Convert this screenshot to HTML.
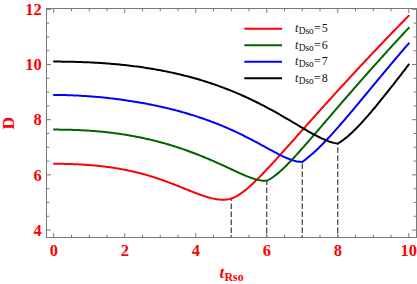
<!DOCTYPE html><html><head><meta charset="utf-8"><title>plot</title><style>
html,body{margin:0;padding:0;background:#fff;}
#c{position:relative;width:417px;height:284px;overflow:hidden;background:#fff;font-family:"Liberation Serif",serif;}
</style></head><body><div id="c">
<svg width="417" height="284" viewBox="0 0 417 284" style="position:absolute;left:0;top:0">
<rect x="0" y="0" width="417" height="284" fill="#ffffff"/>
<line x1="231.25" y1="198.5" x2="231.25" y2="237.5" stroke="#333" stroke-width="1.15" stroke-dasharray="5.5,2.5" stroke-dashoffset="3.10"/>
<line x1="266.75" y1="180.5" x2="266.75" y2="237.5" stroke="#333" stroke-width="1.15" stroke-dasharray="5.5,2.5" stroke-dashoffset="1.10"/>
<line x1="302.25" y1="162" x2="302.25" y2="237.5" stroke="#333" stroke-width="1.15" stroke-dasharray="5.5,2.5" stroke-dashoffset="6.60"/>
<line x1="337.75" y1="143" x2="337.75" y2="237.5" stroke="#333" stroke-width="1.15" stroke-dasharray="5.5,2.5" stroke-dashoffset="3.60"/>
<path d="M53.20,163.81L54.32,163.81L55.44,163.80L56.56,163.80L57.68,163.81L58.80,163.81L59.92,163.82L61.04,163.83L62.16,163.84L63.28,163.86L64.40,163.88L65.52,163.90L66.64,163.93L67.76,163.95L68.88,163.98L70.00,164.02L71.12,164.05L72.24,164.09L73.36,164.13L74.48,164.18L75.60,164.23L76.72,164.28L77.84,164.33L78.96,164.39L80.08,164.45L81.20,164.51L82.32,164.57L83.43,164.64L84.55,164.72L85.67,164.79L86.79,164.87L87.91,164.95L89.03,165.04L90.15,165.13L91.27,165.22L92.39,165.31L93.51,165.41L94.63,165.51L95.75,165.62L96.87,165.73L97.99,165.84L99.11,165.96L100.23,166.08L101.35,166.21L102.47,166.33L103.59,166.47L104.71,166.60L105.83,166.74L106.95,166.89L108.07,167.04L109.19,167.19L110.31,167.35L111.43,167.51L112.55,167.67L113.67,167.84L114.79,168.02L115.91,168.20L117.03,168.38L118.15,168.57L119.27,168.76L120.39,168.96L121.51,169.16L122.63,169.37L123.75,169.58L124.87,169.80L125.99,170.02L127.11,170.25L128.23,170.48L129.35,170.71L130.47,170.96L131.59,171.20L132.71,171.46L133.83,171.71L134.95,171.98L136.07,172.24L137.19,172.52L138.31,172.80L139.43,173.08L140.55,173.37L141.67,173.67L142.78,173.97L143.90,174.27L145.02,174.58L146.14,174.90L147.26,175.22L148.38,175.55L149.50,175.88L150.62,176.22L151.74,176.57L152.86,176.92L153.98,177.27L155.10,177.63L156.22,178.00L157.34,178.37L158.46,178.74L159.58,179.12L160.70,179.51L161.82,179.90L162.94,180.29L164.06,180.69L165.18,181.10L166.30,181.51L167.42,181.92L168.54,182.34L169.66,182.76L170.78,183.18L171.90,183.61L173.02,184.04L174.14,184.48L175.26,184.91L176.38,185.36L177.50,185.80L178.62,186.24L179.74,186.69L180.86,187.14L181.98,187.59L183.10,188.04L184.22,188.50L185.34,188.95L186.46,189.40L187.58,189.85L188.70,190.30L189.82,190.75L190.94,191.20L192.06,191.64L193.18,192.08L194.30,192.52L195.42,192.95L196.54,193.38L197.66,193.80L198.78,194.22L199.90,194.62L201.02,195.02L202.13,195.41L203.25,195.80L204.37,196.17L205.49,196.53L206.61,196.87L207.73,197.21L208.85,197.52L209.97,197.83L211.09,198.11L212.21,198.38L213.33,198.62L214.45,198.85L215.57,199.05L216.69,199.23L217.81,199.39L218.93,199.51L220.05,199.61L221.17,199.68L222.29,199.71L223.41,199.71L224.53,199.68L225.65,199.60L226.77,199.48L227.89,199.33L229.01,199.12L230.13,198.87L231.25,198.56L232.75,198.03L234.24,197.39L235.74,196.65L237.23,195.83L238.73,194.92L240.23,193.95L241.72,192.90L243.22,191.80L244.72,190.64L246.21,189.42L247.71,188.17L249.20,186.87L250.70,185.53L252.20,184.15L253.69,182.75L255.19,181.31L256.69,179.85L258.18,178.37L259.68,176.86L261.17,175.33L262.67,173.79L264.17,172.23L265.66,170.65L267.16,169.06L268.66,167.46L270.15,165.85L271.65,164.23L273.14,162.60L274.64,160.97L276.14,159.32L277.63,157.67L279.13,156.02L280.63,154.36L282.12,152.69L283.62,151.03L285.11,149.36L286.61,147.68L288.11,146.01L289.60,144.33L291.10,142.66L292.59,140.98L294.09,139.30L295.59,137.62L297.08,135.94L298.58,134.26L300.08,132.57L301.57,130.89L303.07,129.22L304.56,127.54L306.06,125.86L307.56,124.18L309.05,122.51L310.55,120.83L312.05,119.16L313.54,117.49L315.04,115.82L316.53,114.15L318.03,112.48L319.53,110.82L321.02,109.16L322.52,107.50L324.02,105.84L325.51,104.18L327.01,102.52L328.50,100.87L330.00,99.22L331.50,97.57L332.99,95.92L334.49,94.28L335.99,92.64L337.48,91.00L338.98,89.36L340.47,87.72L341.97,86.09L343.47,84.46L344.96,82.83L346.46,81.21L347.96,79.58L349.45,77.96L350.95,76.34L352.44,74.73L353.94,73.11L355.44,71.50L356.93,69.89L358.43,68.28L359.92,66.68L361.42,65.08L362.92,63.48L364.41,61.88L365.91,60.29L367.41,58.69L368.90,57.10L370.40,55.52L371.89,53.93L373.39,52.35L374.89,50.77L376.38,49.19L377.88,47.62L379.38,46.05L380.87,44.48L382.37,42.91L383.86,41.34L385.36,39.78L386.86,38.22L388.35,36.66L389.85,35.11L391.35,33.56L392.84,32.01L394.34,30.46L395.83,28.92L397.33,27.37L398.83,25.83L400.32,24.30L401.82,22.76L403.32,21.23L404.81,19.70L406.31,18.17L407.80,16.65L409.30,15.12" fill="none" stroke="#ff0000" stroke-width="2" stroke-linejoin="miter" stroke-miterlimit="10" stroke-linecap="butt"/>
<path d="M53.20,129.60L54.54,129.60L55.89,129.61L57.23,129.61L58.57,129.62L59.92,129.63L61.26,129.65L62.60,129.66L63.94,129.68L65.29,129.71L66.63,129.73L67.97,129.76L69.32,129.79L70.66,129.83L72.00,129.87L73.35,129.91L74.69,129.96L76.03,130.01L77.38,130.06L78.72,130.12L80.06,130.18L81.40,130.24L82.75,130.31L84.09,130.38L85.43,130.46L86.78,130.54L88.12,130.62L89.46,130.71L90.81,130.80L92.15,130.90L93.49,131.00L94.84,131.11L96.18,131.21L97.52,131.33L98.86,131.45L100.21,131.57L101.55,131.69L102.89,131.83L104.24,131.96L105.58,132.10L106.92,132.25L108.27,132.40L109.61,132.55L110.95,132.71L112.30,132.88L113.64,133.04L114.98,133.22L116.32,133.40L117.67,133.58L119.01,133.77L120.35,133.96L121.70,134.16L123.04,134.37L124.38,134.58L125.73,134.79L127.07,135.01L128.41,135.24L129.76,135.47L131.10,135.70L132.44,135.95L133.78,136.19L135.13,136.44L136.47,136.70L137.81,136.96L139.16,137.23L140.50,137.51L141.84,137.79L143.19,138.07L144.53,138.36L145.87,138.66L147.22,138.96L148.56,139.27L149.90,139.58L151.24,139.90L152.59,140.23L153.93,140.56L155.27,140.89L156.62,141.24L157.96,141.58L159.30,141.94L160.65,142.30L161.99,142.67L163.33,143.04L164.68,143.41L166.02,143.80L167.36,144.19L168.71,144.58L170.05,144.99L171.39,145.39L172.73,145.81L174.08,146.23L175.42,146.65L176.76,147.08L178.11,147.52L179.45,147.96L180.79,148.41L182.14,148.87L183.48,149.33L184.82,149.80L186.17,150.27L187.51,150.75L188.85,151.24L190.19,151.73L191.54,152.22L192.88,152.73L194.22,153.24L195.57,153.75L196.91,154.27L198.25,154.80L199.60,155.33L200.94,155.87L202.28,156.41L203.63,156.96L204.97,157.52L206.31,158.08L207.65,158.64L209.00,159.21L210.34,159.79L211.68,160.37L213.03,160.95L214.37,161.54L215.71,162.14L217.06,162.73L218.40,163.34L219.74,163.94L221.09,164.55L222.43,165.17L223.77,165.78L225.11,166.40L226.46,167.02L227.80,167.64L229.14,168.27L230.49,168.89L231.83,169.52L233.17,170.14L234.52,170.76L235.86,171.38L237.20,172.00L238.55,172.61L239.89,173.22L241.23,173.82L242.57,174.41L243.92,174.99L245.26,175.57L246.60,176.12L247.95,176.67L249.29,177.19L250.63,177.70L251.98,178.18L253.32,178.63L254.66,179.05L256.01,179.44L257.35,179.79L258.69,180.10L260.03,180.36L261.38,180.56L262.72,180.70L264.06,180.77L265.41,180.76L266.75,180.67L267.95,180.11L269.15,179.49L270.34,178.81L271.54,178.06L272.74,177.27L273.94,176.42L275.14,175.53L276.33,174.60L277.53,173.62L278.73,172.61L279.93,171.57L281.12,170.50L282.32,169.40L283.52,168.27L284.72,167.11L285.92,165.94L287.11,164.74L288.31,163.53L289.51,162.30L290.71,161.05L291.91,159.78L293.10,158.51L294.30,157.22L295.50,155.92L296.70,154.61L297.90,153.29L299.09,151.96L300.29,150.62L301.49,149.28L302.69,147.92L303.88,146.57L305.08,145.21L306.28,143.84L307.48,142.47L308.68,141.09L309.87,139.71L311.07,138.33L312.27,136.95L313.47,135.56L314.67,134.17L315.86,132.78L317.06,131.39L318.26,129.99L319.46,128.60L320.66,127.20L321.85,125.81L323.05,124.41L324.25,123.02L325.45,121.62L326.64,120.22L327.84,118.83L329.04,117.43L330.24,116.04L331.44,114.64L332.63,113.25L333.83,111.85L335.03,110.46L336.23,109.07L337.43,107.68L338.62,106.29L339.82,104.90L341.02,103.51L342.22,102.13L343.42,100.74L344.61,99.36L345.81,97.98L347.01,96.60L348.21,95.22L349.41,93.84L350.60,92.47L351.80,91.09L353.00,89.72L354.20,88.35L355.39,86.98L356.59,85.61L357.79,84.25L358.99,82.88L360.19,81.52L361.38,80.16L362.58,78.80L363.78,77.44L364.98,76.09L366.18,74.73L367.37,73.38L368.57,72.03L369.77,70.69L370.97,69.34L372.17,68.00L373.36,66.65L374.56,65.31L375.76,63.97L376.96,62.64L378.15,61.30L379.35,59.97L380.55,58.64L381.75,57.31L382.95,55.98L384.14,54.66L385.34,53.33L386.54,52.01L387.74,50.69L388.94,49.38L390.13,48.06L391.33,46.75L392.53,45.44L393.73,44.13L394.93,42.82L396.12,41.51L397.32,40.21L398.52,38.91L399.72,37.61L400.91,36.31L402.11,35.01L403.31,33.72L404.51,32.43L405.71,31.14L406.90,29.85L408.10,28.57L409.30,27.28" fill="none" stroke="#006400" stroke-width="2" stroke-linejoin="miter" stroke-miterlimit="10" stroke-linecap="butt"/>
<path d="M53.20,94.97L54.77,94.97L56.33,94.97L57.90,94.98L59.47,95.00L61.03,95.02L62.60,95.05L64.16,95.08L65.73,95.12L67.30,95.17L68.86,95.22L70.43,95.27L72.00,95.33L73.56,95.39L75.13,95.46L76.70,95.53L78.26,95.61L79.83,95.70L81.39,95.78L82.96,95.88L84.53,95.98L86.09,96.08L87.66,96.19L89.23,96.30L90.79,96.42L92.36,96.54L93.93,96.67L95.49,96.80L97.06,96.94L98.62,97.08L100.19,97.22L101.76,97.37L103.32,97.53L104.89,97.69L106.46,97.86L108.02,98.03L109.59,98.20L111.16,98.38L112.72,98.56L114.29,98.75L115.85,98.95L117.42,99.15L118.99,99.35L120.55,99.56L122.12,99.77L123.69,99.99L125.25,100.21L126.82,100.44L128.38,100.67L129.95,100.91L131.52,101.16L133.08,101.41L134.65,101.66L136.22,101.92L137.78,102.18L139.35,102.45L140.92,102.73L142.48,103.01L144.05,103.29L145.61,103.58L147.18,103.88L148.75,104.18L150.31,104.49L151.88,104.80L153.45,105.12L155.01,105.45L156.58,105.78L158.15,106.11L159.71,106.45L161.28,106.80L162.84,107.16L164.41,107.52L165.98,107.89L167.54,108.26L169.11,108.64L170.68,109.02L172.24,109.42L173.81,109.82L175.38,110.22L176.94,110.64L178.51,111.06L180.07,111.48L181.64,111.92L183.21,112.36L184.77,112.80L186.34,113.26L187.91,113.72L189.47,114.19L191.04,114.67L192.61,115.16L194.17,115.65L195.74,116.15L197.30,116.66L198.87,117.18L200.44,117.70L202.00,118.23L203.57,118.77L205.14,119.32L206.70,119.88L208.27,120.45L209.84,121.02L211.40,121.61L212.97,122.20L214.53,122.80L216.10,123.41L217.67,124.03L219.23,124.66L220.80,125.30L222.37,125.95L223.93,126.60L225.50,127.27L227.07,127.95L228.63,128.63L230.20,129.32L231.76,130.03L233.33,130.74L234.90,131.46L236.46,132.19L238.03,132.93L239.60,133.68L241.16,134.44L242.73,135.21L244.29,135.98L245.86,136.77L247.43,137.56L248.99,138.36L250.56,139.17L252.13,139.99L253.69,140.81L255.26,141.64L256.83,142.48L258.39,143.32L259.96,144.16L261.52,145.01L263.09,145.87L264.66,146.72L266.22,147.58L267.79,148.44L269.36,149.29L270.92,150.14L272.49,150.99L274.06,151.83L275.62,152.66L277.19,153.48L278.75,154.29L280.32,155.08L281.89,155.85L283.45,156.60L285.02,157.33L286.59,158.02L288.15,158.67L289.72,159.29L291.29,159.86L292.85,160.37L294.42,160.82L295.98,161.21L297.55,161.52L299.12,161.74L300.68,161.87L302.25,161.88L303.15,161.25L304.05,160.60L304.95,159.93L305.85,159.24L306.75,158.54L307.65,157.82L308.55,157.09L309.45,156.35L310.35,155.58L311.25,154.81L312.15,154.02L313.04,153.22L313.94,152.41L314.84,151.58L315.74,150.75L316.64,149.90L317.54,149.04L318.44,148.17L319.34,147.30L320.24,146.41L321.14,145.51L322.04,144.60L322.94,143.69L323.84,142.76L324.74,141.83L325.64,140.89L326.54,139.95L327.44,138.99L328.34,138.03L329.24,137.06L330.14,136.09L331.04,135.11L331.94,134.12L332.84,133.13L333.74,132.13L334.63,131.13L335.53,130.12L336.43,129.11L337.33,128.09L338.23,127.07L339.13,126.04L340.03,125.01L340.93,123.98L341.83,122.94L342.73,121.90L343.63,120.86L344.53,119.81L345.43,118.76L346.33,117.70L347.23,116.65L348.13,115.59L349.03,114.53L349.93,113.47L350.83,112.40L351.73,111.33L352.63,110.26L353.53,109.19L354.43,108.12L355.33,107.05L356.22,105.97L357.12,104.89L358.02,103.81L358.92,102.74L359.82,101.65L360.72,100.57L361.62,99.49L362.52,98.41L363.42,97.33L364.32,96.24L365.22,95.16L366.12,94.07L367.02,92.99L367.92,91.90L368.82,90.82L369.72,89.73L370.62,88.65L371.52,87.56L372.42,86.48L373.32,85.39L374.22,84.31L375.12,83.22L376.02,82.14L376.92,81.05L377.81,79.97L378.71,78.89L379.61,77.81L380.51,76.73L381.41,75.65L382.31,74.57L383.21,73.49L384.11,72.41L385.01,71.33L385.91,70.26L386.81,69.18L387.71,68.11L388.61,67.04L389.51,65.96L390.41,64.89L391.31,63.83L392.21,62.76L393.11,61.69L394.01,60.63L394.91,59.56L395.81,58.50L396.71,57.44L397.61,56.38L398.51,55.32L399.40,54.26L400.30,53.21L401.20,52.15L402.10,51.10L403.00,50.05L403.90,49.00L404.80,47.96L405.70,46.91L406.60,45.87L407.50,44.82L408.40,43.78L409.30,42.75" fill="none" stroke="#0000ff" stroke-width="2" stroke-linejoin="miter" stroke-miterlimit="10" stroke-linecap="butt"/>
<path d="M53.20,61.58L54.99,61.59L56.78,61.59L58.57,61.60L60.36,61.61L62.15,61.63L63.94,61.65L65.73,61.67L67.52,61.70L69.31,61.73L71.10,61.77L72.89,61.81L74.68,61.85L76.47,61.90L78.25,61.95L80.04,62.01L81.83,62.07L83.62,62.14L85.41,62.21L87.20,62.29L88.99,62.37L90.78,62.45L92.57,62.55L94.36,62.64L96.15,62.74L97.94,62.85L99.73,62.96L101.52,63.07L103.31,63.20L105.10,63.32L106.89,63.46L108.68,63.59L110.47,63.74L112.26,63.89L114.05,64.04L115.84,64.20L117.63,64.37L119.42,64.54L121.21,64.72L123.00,64.90L124.78,65.09L126.57,65.29L128.36,65.50L130.15,65.71L131.94,65.92L133.73,66.14L135.52,66.37L137.31,66.61L139.10,66.85L140.89,67.10L142.68,67.36L144.47,67.63L146.26,67.90L148.05,68.18L149.84,68.46L151.63,68.76L153.42,69.06L155.21,69.37L157.00,69.68L158.79,70.01L160.58,70.34L162.37,70.68L164.16,71.03L165.95,71.38L167.74,71.75L169.53,72.12L171.32,72.50L173.10,72.89L174.89,73.29L176.68,73.69L178.47,74.11L180.26,74.54L182.05,74.97L183.84,75.41L185.63,75.86L187.42,76.33L189.21,76.80L191.00,77.28L192.79,77.77L194.58,78.26L196.37,78.77L198.16,79.29L199.95,79.82L201.74,80.36L203.53,80.91L205.32,81.47L207.11,82.04L208.90,82.62L210.69,83.21L212.48,83.81L214.27,84.42L216.06,85.04L217.85,85.68L219.63,86.32L221.42,86.98L223.21,87.64L225.00,88.32L226.79,89.01L228.58,89.71L230.37,90.42L232.16,91.15L233.95,91.88L235.74,92.63L237.53,93.38L239.32,94.15L241.11,94.94L242.90,95.73L244.69,96.53L246.48,97.35L248.27,98.18L250.06,99.02L251.85,99.87L253.64,100.73L255.43,101.61L257.22,102.49L259.01,103.39L260.80,104.30L262.59,105.22L264.38,106.15L266.17,107.10L267.95,108.05L269.74,109.01L271.53,109.99L273.32,110.97L275.11,111.96L276.90,112.97L278.69,113.98L280.48,115.00L282.27,116.03L284.06,117.06L285.85,118.11L287.64,119.15L289.43,120.21L291.22,121.26L293.01,122.32L294.80,123.39L296.59,124.45L298.38,125.51L300.17,126.57L301.96,127.63L303.75,128.68L305.54,129.73L307.33,130.77L309.12,131.79L310.91,132.80L312.70,133.79L314.48,134.76L316.27,135.71L318.06,136.63L319.85,137.52L321.64,138.38L323.43,139.19L325.22,139.96L327.01,140.67L328.80,141.33L330.59,141.92L332.38,142.43L334.17,142.87L335.96,143.21L337.75,143.45L338.35,143.12L338.95,142.77L339.55,142.40L340.16,142.03L340.76,141.64L341.36,141.24L341.96,140.83L342.56,140.40L343.16,139.97L343.76,139.53L344.36,139.07L344.97,138.61L345.57,138.13L346.17,137.65L346.77,137.16L347.37,136.65L347.97,136.14L348.57,135.62L349.17,135.10L349.78,134.56L350.38,134.02L350.98,133.47L351.58,132.91L352.18,132.35L352.78,131.78L353.38,131.20L353.98,130.62L354.59,130.03L355.19,129.43L355.79,128.83L356.39,128.22L356.99,127.61L357.59,126.99L358.19,126.37L358.79,125.74L359.40,125.10L360.00,124.47L360.60,123.82L361.20,123.17L361.80,122.52L362.40,121.87L363.00,121.20L363.60,120.54L364.21,119.87L364.81,119.20L365.41,118.52L366.01,117.84L366.61,117.16L367.21,116.47L367.81,115.79L368.41,115.09L369.02,114.40L369.62,113.70L370.22,113.00L370.82,112.29L371.42,111.58L372.02,110.87L372.62,110.16L373.22,109.45L373.83,108.73L374.43,108.01L375.03,107.29L375.63,106.56L376.23,105.84L376.83,105.11L377.43,104.38L378.03,103.64L378.64,102.91L379.24,102.17L379.84,101.43L380.44,100.69L381.04,99.95L381.64,99.21L382.24,98.46L382.84,97.72L383.45,96.97L384.05,96.22L384.65,95.47L385.25,94.72L385.85,93.96L386.45,93.21L387.05,92.45L387.65,91.69L388.26,90.94L388.86,90.18L389.46,89.41L390.06,88.65L390.66,87.89L391.26,87.12L391.86,86.36L392.46,85.59L393.07,84.83L393.67,84.06L394.27,83.29L394.87,82.52L395.47,81.75L396.07,80.98L396.67,80.20L397.27,79.43L397.88,78.66L398.48,77.88L399.08,77.11L399.68,76.33L400.28,75.55L400.88,74.78L401.48,74.00L402.08,73.22L402.69,72.44L403.29,71.66L403.89,70.88L404.49,70.10L405.09,69.32L405.69,68.54L406.29,67.76L406.89,66.97L407.50,66.19L408.10,65.41L408.70,64.62L409.30,63.84" fill="none" stroke="#000000" stroke-width="2" stroke-linejoin="miter" stroke-miterlimit="10" stroke-linecap="butt"/>
<rect x="46.5" y="8.5" width="370.0" height="229.0" fill="none" stroke="#787878" stroke-width="1"/>
<path d="M53.75,237.5v-4.5M53.75,8.5v4.5M71.50,237.5v-2.8M71.50,8.5v2.8M89.25,237.5v-2.8M89.25,8.5v2.8M107.00,237.5v-2.8M107.00,8.5v2.8M124.75,237.5v-4.5M124.75,8.5v4.5M142.50,237.5v-2.8M142.50,8.5v2.8M160.25,237.5v-2.8M160.25,8.5v2.8M178.00,237.5v-2.8M178.00,8.5v2.8M195.75,237.5v-4.5M195.75,8.5v4.5M213.50,237.5v-2.8M213.50,8.5v2.8M231.25,237.5v-2.8M231.25,8.5v2.8M249.00,237.5v-2.8M249.00,8.5v2.8M266.75,237.5v-4.5M266.75,8.5v4.5M284.50,237.5v-2.8M284.50,8.5v2.8M302.25,237.5v-2.8M302.25,8.5v2.8M320.00,237.5v-2.8M320.00,8.5v2.8M337.75,237.5v-4.5M337.75,8.5v4.5M355.50,237.5v-2.8M355.50,8.5v2.8M373.25,237.5v-2.8M373.25,8.5v2.8M391.00,237.5v-2.8M391.00,8.5v2.8M408.75,237.5v-4.5M408.75,8.5v4.5M46.5,230.05h4.5M416.5,230.05h-4.5M46.5,216.26h2.8M416.5,216.26h-2.8M46.5,202.46h2.8M416.5,202.46h-2.8M46.5,188.67h2.8M416.5,188.67h-2.8M46.5,174.87h4.5M416.5,174.87h-4.5M46.5,161.08h2.8M416.5,161.08h-2.8M46.5,147.28h2.8M416.5,147.28h-2.8M46.5,133.49h2.8M416.5,133.49h-2.8M46.5,119.69h4.5M416.5,119.69h-4.5M46.5,105.90h2.8M416.5,105.90h-2.8M46.5,92.10h2.8M416.5,92.10h-2.8M46.5,78.31h2.8M416.5,78.31h-2.8M46.5,64.51h4.5M416.5,64.51h-4.5M46.5,50.72h2.8M416.5,50.72h-2.8M46.5,36.92h2.8M416.5,36.92h-2.8M46.5,23.12h2.8M416.5,23.12h-2.8M46.5,9.33h4.5M416.5,9.33h-4.5" stroke="#787878" stroke-width="1" fill="none"/>
<line x1="244.3" y1="28.75" x2="282" y2="28.75" stroke="#ff0000" stroke-width="2"/>
<line x1="244.3" y1="45.25" x2="282" y2="45.25" stroke="#006400" stroke-width="2"/>
<line x1="244.3" y1="61.75" x2="282" y2="61.75" stroke="#0000ff" stroke-width="2"/>
<line x1="244.3" y1="78.25" x2="282" y2="78.25" stroke="#000000" stroke-width="2"/>
<g font-family="'Liberation Serif',serif" font-weight="bold" font-size="16.5" fill="#ff0000">
<text x="53.75" y="255.5" text-anchor="middle">0</text>
<text x="124.75" y="255.5" text-anchor="middle">2</text>
<text x="195.75" y="255.5" text-anchor="middle">4</text>
<text x="266.75" y="255.5" text-anchor="middle">6</text>
<text x="337.75" y="255.5" text-anchor="middle">8</text>
<text x="408.75" y="255.5" text-anchor="middle">10</text>
<text x="41.8" y="235.8" text-anchor="end">4</text>
<text x="41.8" y="180.6" text-anchor="end">6</text>
<text x="41.8" y="125.4" text-anchor="end">8</text>
<text x="41.8" y="70.25" text-anchor="end">10</text>
<text x="41.8" y="15.1" text-anchor="end">12</text>
<text transform="translate(14.4,129.4) rotate(-90)" font-size="17.5">D</text>
<text x="219.4" y="278.2" font-size="17" font-style="italic">t</text>
<text x="224.6" y="280.9" font-size="11.8">Rso</text>
</g>
<g font-family="'Liberation Serif',serif" fill="#111">
<text x="295" y="32.2" font-size="12" font-style="italic">t</text>
<text x="298.7" y="34.2" font-size="9.4">Dso</text>
<text x="314.1" y="32.2" font-size="12">=</text>
<text x="321.8" y="32.2" font-size="12">5</text>
<text x="295" y="48.7" font-size="12" font-style="italic">t</text>
<text x="298.7" y="50.7" font-size="9.4">Dso</text>
<text x="314.1" y="48.7" font-size="12">=</text>
<text x="321.8" y="48.7" font-size="12">6</text>
<text x="295" y="65.2" font-size="12" font-style="italic">t</text>
<text x="298.7" y="67.2" font-size="9.4">Dso</text>
<text x="314.1" y="65.2" font-size="12">=</text>
<text x="321.8" y="65.2" font-size="12">7</text>
<text x="295" y="81.7" font-size="12" font-style="italic">t</text>
<text x="298.7" y="83.7" font-size="9.4">Dso</text>
<text x="314.1" y="81.7" font-size="12">=</text>
<text x="321.8" y="81.7" font-size="12">8</text>
</g>
</svg>
</div></body></html>
